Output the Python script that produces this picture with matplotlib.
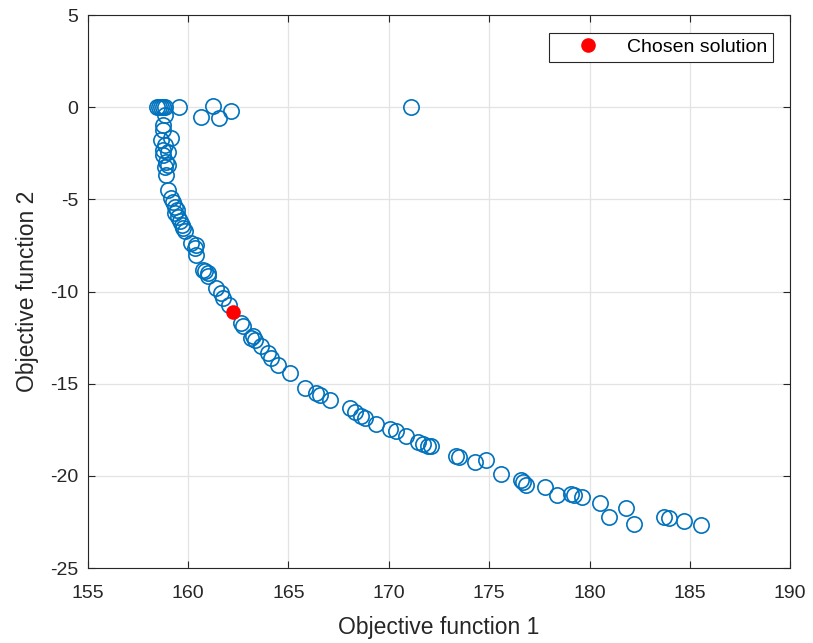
import numpy as np
import matplotlib
matplotlib.use("Agg")
from matplotlib import pyplot as plt

# Pareto front: objective 1 vs objective 2
obj1 = np.array([
    158.44, 158.54, 158.64, 158.74, 158.83, 159.53,
    160.63, 161.23, 161.52, 162.12, 171.09,
    158.83, 158.75, 158.75, 159.17, 158.67, 158.83, 158.75, 159.00,
    158.75, 158.92, 159.00, 158.83, 158.92,
    159.00, 159.17, 159.25, 159.33, 159.42, 159.33, 159.50, 159.58,
    159.67, 159.75, 159.83, 160.16, 160.41, 160.33,
    160.41, 160.74, 160.83, 160.99, 160.99, 161.41, 161.66, 161.74,
    162.02, 162.65, 162.73, 163.23, 163.32, 163.15, 163.65, 163.98,
    164.15, 164.48, 165.06, 165.81, 166.39, 166.55, 167.05, 168.05,
    168.30, 168.63, 168.80, 169.38, 170.04, 170.34, 170.84, 171.45,
    171.70, 171.95, 172.12, 173.36, 173.49, 174.27, 174.86, 175.59,
    176.60, 176.68, 176.81, 177.76, 178.39, 179.09, 179.25, 179.64,
    180.53, 180.96, 181.83, 182.24, 183.73, 183.98, 184.70, 185.56,
])
obj2 = np.array([
    0.0, 0.0, 0.0, 0.0, 0.0, 0.0,
    -0.53, 0.07, -0.58, -0.20, 0.0,
    -0.42, -0.96, -1.23, -1.66, -1.77, -2.04, -2.31, -2.42,
    -2.59, -2.95, -3.13, -3.22, -3.67,
    -4.48, -4.93, -5.12, -5.39, -5.57, -5.75, -5.93, -6.20,
    -6.38, -6.56, -6.74, -7.37, -7.46, -7.64,
    -8.01, -8.82, -8.91, -9.00, -9.18, -9.81, -10.08, -10.34,
    -10.72, -11.71, -11.89, -12.43, -12.61, -12.52, -12.98, -13.33,
    -13.60, -13.97, -14.42, -15.23, -15.50, -15.59, -15.86, -16.31,
    -16.55, -16.73, -16.86, -17.17, -17.45, -17.58, -17.85, -18.16,
    -18.25, -18.36, -18.39, -18.94, -18.97, -19.26, -19.15, -19.90,
    -20.24, -20.35, -20.47, -20.62, -21.05, -21.01, -21.05, -21.14,
    -21.46, -22.22, -21.73, -22.59, -22.22, -22.30, -22.46, -22.68,
])

chosen = (162.24, -11.13)

xticks = [155, 160, 165, 170, 175, 180, 185, 190]
yticks = [-25, -20, -15, -10, -5, 0, 5]

plt.rcParams['font.family'] = ['Liberation Sans', 'DejaVu Sans']
plt.rcParams['axes.unicode_minus'] = False

fig = plt.figure(figsize=(8.13, 6.43), dpi=100)
ax = fig.add_axes([0.108, 0.1166, 0.864, 0.860])

ax.plot(obj1, obj2, 'o', mfc='none', mec='#0072BD', ms=11, mew=1.2, zorder=3)
ax.plot(chosen[0], chosen[1], 'o', color='red', ms=9.5, zorder=4,
        label='Chosen solution')

ax.set_xlim(155, 190)
ax.set_ylim(-25, 5)
ax.set_xticks(xticks)
ax.set_yticks(yticks)
ax.grid(True, color='#e3e3e3', linewidth=0.9)
ax.set_axisbelow(True)

for sp in ax.spines.values():
    sp.set_color('#262626')
    sp.set_linewidth(0.8)
ax.tick_params(direction='in', length=5, width=0.8, colors='#262626',
               labelsize=14, top=True, right=True)
ax.tick_params(axis='x', pad=12)
ax.tick_params(axis='y', pad=7)

ax.set_xlabel('Objective function 1', fontsize=16.5, color='#262626', labelpad=10)
ax.set_ylabel('Objective function 2', fontsize=16.5, color='#262626', labelpad=8)

leg = ax.legend(loc='upper right', fontsize=14, fancybox=False, framealpha=1,
                edgecolor='#262626', borderpad=0.3, handlelength=3.4,
                handletextpad=0.3, borderaxespad=0.9)
leg.get_frame().set_linewidth(0.8)

fig.savefig('out.png', dpi=100)
